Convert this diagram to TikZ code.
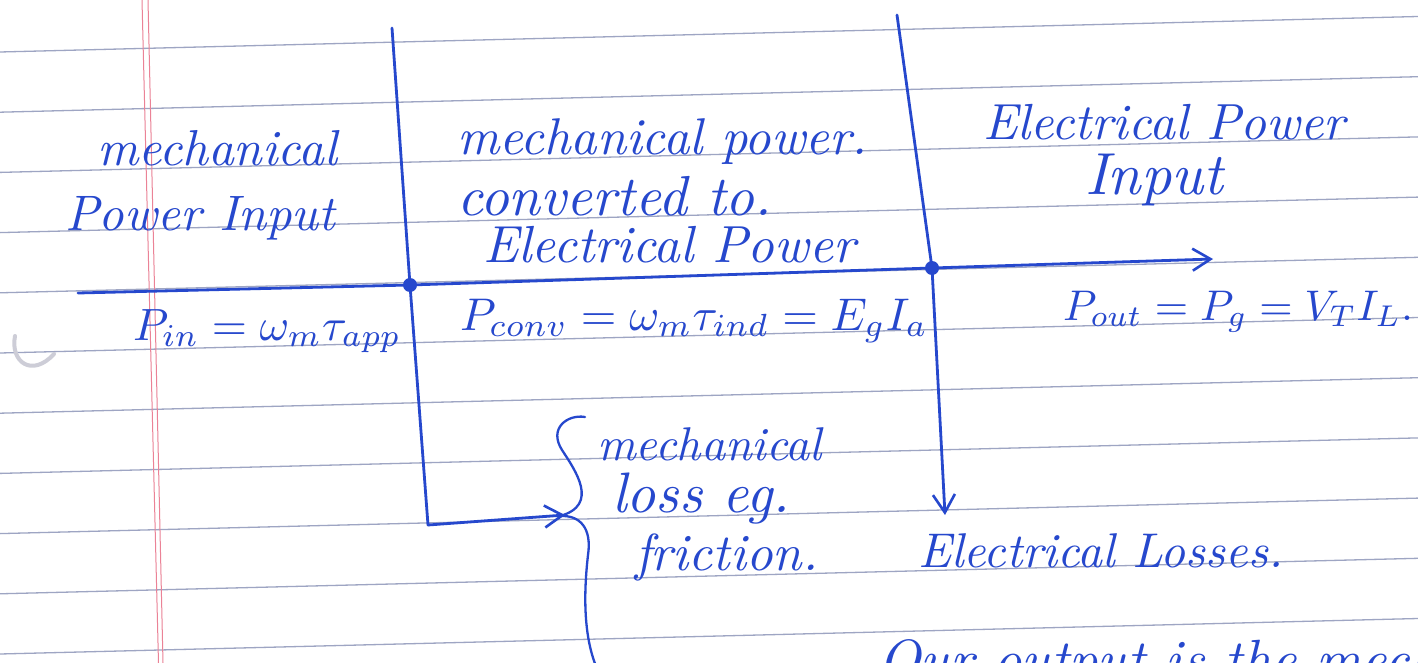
\documentclass[tikz,border=0pt]{standalone}
\usepackage{graphicx}
\usetikzlibrary{arrows.meta}
\definecolor{ink}{RGB}{38,72,205}
\definecolor{rulecol}{RGB}{158,165,195}
\definecolor{margincol}{RGB}{235,130,150}
\definecolor{holecol}{RGB}{205,205,215}
\newcommand{\hw}[2]{\resizebox{#1pt}{!}{\itshape #2}}
\begin{document}
\begin{tikzpicture}[x=1pt,y=-1pt,
  inkline/.style={draw=ink,line width=2.8pt,line cap=round,line join=round},
  ruled/.style={draw=rulecol,line width=1.3pt},
  marginline/.style={draw=margincol,line width=1pt},
  hand/.style={inner sep=0pt,outer sep=0pt,anchor=base west,text=ink},
  jdot/.style={circle,fill=ink,inner sep=0pt,minimum size=14pt},
  barb/.style={-{Straight Barb[length=18pt,width=22pt,line width=2.6pt]}}]
\useasboundingbox (0,0) rectangle (1418,663);
\fill[white] (0,0) rectangle (1418,663);
\clip (0,0) rectangle (1418,663);
% ruled paper
\foreach \k in {0,...,10} {\draw[ruled] (0,{52+60.2*\k}) -- (1418,{52+60.2*\k-35.5});}
\draw[marginline] (142,0) -- (158.5,663);
\draw[marginline] (148,0) -- (163,663);
\draw[holecol,line width=4pt,line cap=round] (15,336) .. controls (10,362) and (32,378) .. (54,354);
% junctions and end points
\node[jdot] (J1) at (410,285) {};
\node[jdot] (J2) at (932,268) {};
\coordinate (HL) at (78,293);
\coordinate (HR) at (1213,259);
\coordinate (V1T) at (392,28);
\coordinate (V1C) at (428,525);
\coordinate (V1A) at (565,515);
\coordinate (V2T) at (897,15);
\coordinate (V2A) at (945,515);
% lines
\draw[inkline] (HL) -- (J1.center) -- (J2.center);
\draw[inkline,barb] (J2.center) -- (HR);
\draw[inkline] (V1T) -- (J1.center) -- (V1C);
\draw[inkline,barb] (V1C) -- (V1A);
\draw[inkline] (V2T) -- (J2.center);
\draw[inkline,barb] (J2.center) -- (V2A);
% brace
\draw[inkline,line width=2.3pt] (585,417) .. controls (568,414) and (548,428) .. (562,450) .. controls (575,470) and (600,505) .. (560,516) .. controls (580,515) and (592,528) .. (588,555) .. controls (584,590) and (582,640) .. (600,675);
% texts
\node[hand] (tA1) at (97,166) {\hw{240}{mechanical}};
\node[hand] (tA2) at (65,230) {\hw{270}{Power Input}};
\node[hand] (tA3) at (133,340) {\hw{268}{$P_{in} = \omega_m \tau_{app}$}};
\node[hand] (tB1) at (457,155) {\hw{410}{mechanical power.}};
\node[hand] (tB2) at (457,215) {\hw{315}{converted to.}};
\node[hand] (tB3) at (483,262) {\hw{372}{Electrical Power}};
\node[hand] (tB4) at (460,330) {\hw{468}{$P_{conv} = \omega_m \tau_{ind} = E_g I_a$}};
\node[hand] (tC1) at (983,140) {\hw{362}{Electrical Power}};
\node[hand] (tC2) at (1085,195) {\hw{138}{Input}};
\node[hand] (tC3) at (1063,320) {\hw{350}{$P_{out} = P_g = V_T I_L.$}};
\node[hand] (tD1) at (597,460) {\hw{225}{mechanical}};
\node[hand] (tD2) at (612,512) {\hw{178}{loss eg.}};
\node[hand] (tD3) at (635,570) {\hw{183}{friction.}};
\node[hand] (tE1) at (918,567) {\hw{365}{Electrical Losses.}};
\node[hand] (tF1) at (878,678) {\hw{560}{Our output is the mech}};
\end{tikzpicture}
\end{document}
